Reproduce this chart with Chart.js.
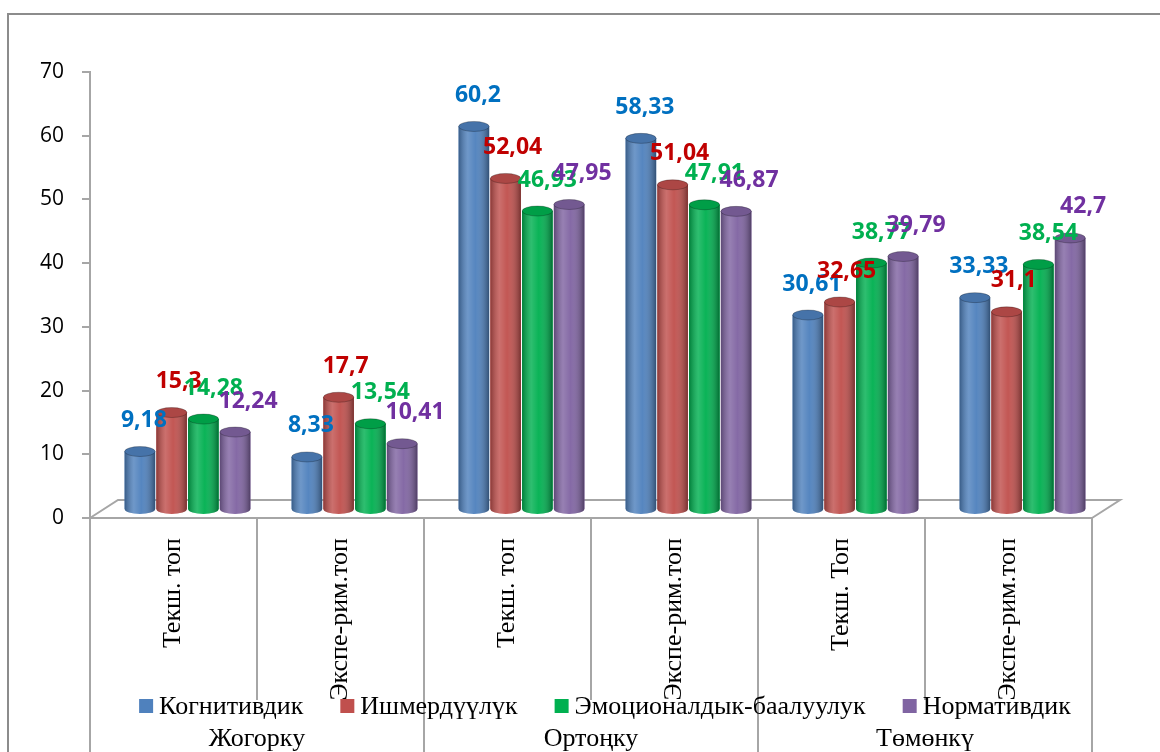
<!DOCTYPE html>
<html>
<head>
<meta charset="utf-8">
<script src="https://cdn.jsdelivr.net/npm/chart.js@4.4.0/dist/chart.umd.min.js"></script>
<style>
    html, body { margin: 0; padding: 0; background: #fff; }
    #wrap { width: 1160px; height: 752px; position: relative; }
</style>
</head>
<body>
<div id="wrap"><canvas id="chart" width="1160" height="752"></canvas></div>
<script>
// Chart data
const categories = ['Текш. топ', 'Экспе-рим.топ', 'Текш. топ', 'Экспе-рим.топ', 'Текш. Топ', 'Экспе-рим.топ'];
const groups = ['Жогорку', 'Ортоңку', 'Төмөнкү'];
const seriesNames = ['Когнитивдик', 'Ишмердүүлүк', 'Эмоционалдык-баалуулук', 'Нормативдик'];
const cognitive = [9.18, 8.33, 60.2, 58.33, 30.61, 33.33];
const activity = [15.3, 17.7, 52.04, 51.04, 32.65, 31.1];
const emotional = [14.28, 13.54, 46.93, 47.91, 38.77, 38.54];
const normative = [12.24, 10.41, 47.95, 46.87, 39.79, 42.7];
const yMax = 70;
const yStep = 10;

const barColors = ['#4f81bd', '#c0504d', '#00b050', '#8064a2'];
const labelColors = ['#0070c0', '#c00000', '#00b050', '#7030a0'];

// 3D look: floor depth, bars sit in the middle of it
const DEPTH_X = 28, DEPTH_Y = 18;
const SHIFT_X = 14, SHIFT_Y = -8;
const CAP_RY = 5;
const axisGray = '#a6a6a6';
const serif = '"Liberation Serif", "Times New Roman", serif';
const sans = '"Open Sans", Lato, sans-serif';

const seriesValues = [cognitive, activity, emotional, normative];

const cylinderPlugin = {
    id: 'cylinders',
    beforeDraw(chart) {
        // outer frame of the chart object
        const ctx = chart.ctx;
        ctx.save();
        ctx.strokeStyle = '#8c8c8c';
        ctx.lineWidth = 2;
        ctx.strokeRect(8, 14, 1400, 1000);
        ctx.restore();
    },
    beforeDatasetsDraw(chart) {
        const ctx = chart.ctx;
        const a = chart.chartArea;
        // floor
        ctx.save();
        ctx.strokeStyle = axisGray;
        ctx.lineWidth = 2;
        ctx.beginPath();
        ctx.moveTo(a.left, a.bottom);
        ctx.lineTo(a.left + DEPTH_X, a.bottom - DEPTH_Y);
        ctx.lineTo(a.right + DEPTH_X, a.bottom - DEPTH_Y);
        ctx.lineTo(a.right, a.bottom);
        ctx.stroke();
        ctx.restore();

        ctx.save();
        ctx.translate(SHIFT_X, SHIFT_Y);
    },
    afterDatasetsDraw(chart) {
        const ctx = chart.ctx;
        chart.data.datasets.forEach((ds, di) => {
            const meta = chart.getDatasetMeta(di);
            meta.data.forEach(el => {
                const w = el.width, left = el.x - w / 2, right = el.x + w / 2;
                const shade = ctx.createLinearGradient(left, 0, right, 0);
                shade.addColorStop(0, 'rgba(0,0,0,0.28)');
                shade.addColorStop(0.3, 'rgba(255,255,255,0.18)');
                shade.addColorStop(0.55, 'rgba(255,255,255,0.04)');
                shade.addColorStop(1, 'rgba(0,0,0,0.38)');

                // body with rounded bottom
                ctx.beginPath();
                ctx.moveTo(left, el.y);
                ctx.lineTo(left, el.base);
                ctx.ellipse(el.x, el.base, w / 2, CAP_RY, 0, Math.PI, 0, true);
                ctx.lineTo(right, el.y);
                ctx.closePath();
                ctx.fillStyle = ds.backgroundColor;
                ctx.fill();
                ctx.fillStyle = shade;
                ctx.fill();

                // top cap
                ctx.beginPath();
                ctx.ellipse(el.x, el.y, w / 2, CAP_RY, 0, 0, Math.PI * 2);
                ctx.fillStyle = ds.backgroundColor;
                ctx.fill();
                ctx.fillStyle = 'rgba(0,0,0,0.10)';
                ctx.fill();
                ctx.strokeStyle = 'rgba(0,0,0,0.25)';
                ctx.lineWidth = 1;
                ctx.stroke();
            });
        });
        ctx.restore();

        // value labels
        ctx.save();
        ctx.font = 'bold 23px ' + sans;
        ctx.textAlign = 'center';
        ctx.textBaseline = 'middle';
        chart.data.datasets.forEach((ds, di) => {
            const meta = chart.getDatasetMeta(di);
            ctx.fillStyle = labelColors[di];
            meta.data.forEach((el, i) => {
                const txt = String(ds.data[i]).replace('.', ',');
                ctx.fillText(txt, el.x + SHIFT_X + 4 + di * 3, el.y + SHIFT_Y - 31);
            });
        });
        ctx.restore();
    },
    afterDraw(chart) {
        // legend, drawn over the axis area like the original
        const ctx = chart.ctx;
        const a = chart.chartArea;
        const box = 14, gapText = 6, gapItem = 37;
        ctx.save();
        ctx.font = '26px ' + serif;
        ctx.textBaseline = 'middle';
        const widths = chart.data.datasets.map(ds => ctx.measureText(ds.label).width);
        const total = widths.reduce((s, w) => s + box + gapText + w, 0) + gapItem * (widths.length - 1);
        let x = (a.left + a.right + DEPTH_X) / 2 - total / 2;
        const y = 706;
        chart.data.datasets.forEach((ds, di) => {
            ctx.fillStyle = barColors[di];
            ctx.fillRect(x, y - box / 2, box, box);
            x += box + gapText;
            ctx.fillStyle = '#000';
            ctx.fillText(ds.label, x, y + 1);
            x += widths[di] + gapItem;
        });
        ctx.restore();
    }
};

const datasets = seriesNames.map((name, i) => ({
    label: name,
    data: seriesValues[i],
    backgroundColor: barColors[i],
    borderWidth: 0,
    barPercentage: 0.96,
    categoryPercentage: 0.76
}));

new Chart(document.getElementById('chart').getContext('2d'), {
    type: 'bar',
    data: {
        labels: categories,
        datasets: datasets
    },
    plugins: [cylinderPlugin],
    options: {
        responsive: false,
        devicePixelRatio: 1,
        animation: false,
        layout: {
            padding: { top: 72, right: 68, left: 0, bottom: 0 }
        },
        plugins: {
            legend: { display: false },
            tooltip: { enabled: false }
        },
        scales: {
            x: {
                position: 'bottom',
                offset: true,
                grid: {
                    offset: true,
                    drawOnChartArea: false,
                    tickLength: 182,
                    color: axisGray,
                    lineWidth: 2
                },
                border: { display: true, color: axisGray, width: 2 },
                ticks: {
                    autoSkip: false,
                    maxRotation: 90,
                    minRotation: 90,
                    padding: -162,
                    color: '#000',
                    font: { family: serif, size: 26 }
                },
                afterFit: s => { s.height = 182; }
            },
            x2: {
                type: 'category',
                labels: groups,
                position: 'bottom',
                offset: true,
                grid: {
                    offset: true,
                    drawOnChartArea: false,
                    tickLength: 52,
                    color: axisGray,
                    lineWidth: 2
                },
                border: { display: false },
                ticks: {
                    padding: -28,
                    color: '#000',
                    font: { family: serif, size: 26 }
                },
                afterFit: s => { s.height = 52; }
            },
            y: {
                min: 0,
                max: yMax,
                ticks: {
                    stepSize: yStep,
                    padding: 18,
                    color: '#000',
                    font: { family: sans, size: 21 }
                },
                grid: {
                    drawOnChartArea: false,
                    tickLength: 8,
                    color: axisGray,
                    lineWidth: 2
                },
                border: { color: axisGray, width: 2 },
                afterFit: s => { s.width = 90; }
            }
        }
    }
});
</script>
</body>
</html>
